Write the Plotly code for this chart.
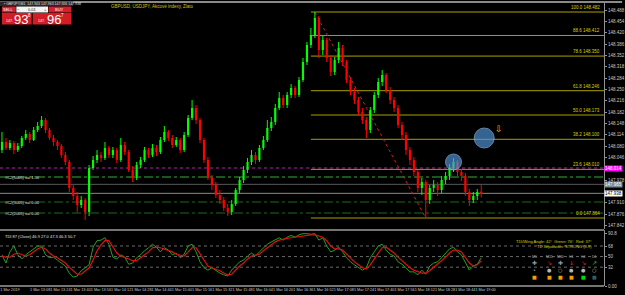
import plotly.graph_objects as go

# ---------------- data ----------------
opens = [148.068, 148.092, 148.074, 148.089, 148.068, 148.080, 148.104, 148.116, 148.098, 148.128,
         148.140, 148.158, 148.128, 148.104, 148.092, 148.080, 148.053, 148.032, 147.954, 147.930,
         147.903, 147.918, 147.882, 148.014, 148.038, 148.053, 148.044, 148.074, 148.053, 148.068,
         148.038, 148.083, 148.062, 148.008, 147.984, 148.023, 148.038, 148.068, 148.053, 148.074,
         148.062, 148.098, 148.122, 148.104, 148.083, 148.098, 148.068, 148.113, 148.164, 148.194,
         148.158, 148.098, 148.038, 147.984, 147.963, 147.933, 147.918, 147.894, 147.882, 147.906,
         147.948, 147.978, 148.008, 148.032, 148.053, 148.038, 148.074, 148.098, 148.134, 148.152,
         148.194, 148.224, 148.203, 148.233, 148.254, 148.233, 148.278, 148.332, 148.383, 148.413,
         148.464, 148.368, 148.398, 148.344, 148.302, 148.338, 148.374, 148.332, 148.278, 148.242,
         148.218, 148.182, 148.158, 148.128, 148.188, 148.233, 148.272, 148.293, 148.248, 148.218,
         148.194, 148.143, 148.113, 148.068, 148.038, 148.002, 147.954, 147.972, 147.918, 147.954,
         147.963, 147.948, 147.978, 147.990, 148.014, 148.032, 148.002, 147.990, 147.942, 147.918,
         147.930, 147.943]
highs = [148.122, 148.104, 148.098, 148.095, 148.089, 148.110, 148.128, 148.122, 148.137, 148.152,
         148.170, 148.164, 148.134, 148.113, 148.098, 148.086, 148.062, 148.038, 147.963, 147.942,
         147.930, 147.924, 148.023, 148.050, 148.068, 148.062, 148.092, 148.080, 148.077, 148.074,
         148.104, 148.092, 148.068, 148.020, 148.032, 148.047, 148.077, 148.074, 148.086, 148.083,
         148.107, 148.140, 148.128, 148.113, 148.107, 148.104, 148.122, 148.173, 148.218, 148.203,
         148.164, 148.104, 148.047, 147.993, 147.972, 147.948, 147.927, 147.906, 147.918, 147.954,
         147.987, 148.020, 148.044, 148.068, 148.062, 148.083, 148.110, 148.158, 148.167, 148.206,
         148.242, 148.233, 148.242, 148.266, 148.260, 148.287, 148.344, 148.392, 148.434, 148.482,
         148.470, 148.410, 148.404, 148.353, 148.347, 148.392, 148.383, 148.338, 148.287, 148.254,
         148.227, 148.194, 148.167, 148.197, 148.242, 148.284, 148.308, 148.299, 148.257, 148.227,
         148.203, 148.152, 148.122, 148.077, 148.047, 148.008, 147.984, 147.978, 147.963, 147.978,
         147.972, 147.990, 148.002, 148.026, 148.044, 148.038, 148.011, 147.999, 147.951, 147.942,
         147.951, 147.963]
lows = [148.059, 148.068, 148.068, 148.056, 148.062, 148.074, 148.098, 148.089, 148.095, 148.122,
        148.134, 148.119, 148.098, 148.080, 148.068, 148.044, 148.023, 147.942, 147.918, 147.882,
        147.894, 147.858, 147.870, 148.008, 148.029, 148.032, 148.038, 148.044, 148.044, 148.029,
        148.032, 148.053, 148.002, 147.972, 147.978, 148.014, 148.032, 148.044, 148.047, 148.050,
        148.056, 148.092, 148.095, 148.074, 148.077, 148.059, 148.062, 148.107, 148.158, 148.146,
        148.089, 148.029, 147.978, 147.948, 147.924, 147.906, 147.885, 147.870, 147.873, 147.900,
        147.939, 147.969, 147.999, 148.023, 148.026, 148.032, 148.068, 148.092, 148.125, 148.143,
        148.188, 148.194, 148.194, 148.224, 148.224, 148.227, 148.272, 148.323, 148.374, 148.404,
        148.344, 148.353, 148.332, 148.290, 148.293, 148.329, 148.320, 148.269, 148.233, 148.206,
        148.170, 148.146, 148.104, 148.119, 148.179, 148.224, 148.260, 148.239, 148.206, 148.182,
        148.134, 148.098, 148.053, 148.023, 147.990, 147.942, 147.933, 147.864, 147.906, 147.942,
        147.930, 147.939, 147.966, 147.978, 148.002, 147.990, 147.975, 147.930, 147.900, 147.909,
        147.918, 147.926]
closes = [148.092, 148.074, 148.089, 148.068, 148.080, 148.104, 148.116, 148.098, 148.128, 148.140,
          148.158, 148.128, 148.104, 148.092, 148.080, 148.053, 148.032, 147.954, 147.930, 147.903,
          147.918, 147.882, 148.014, 148.038, 148.053, 148.044, 148.074, 148.053, 148.068, 148.038,
          148.083, 148.062, 148.008, 147.984, 148.023, 148.038, 148.068, 148.053, 148.074, 148.062,
          148.098, 148.122, 148.104, 148.083, 148.098, 148.068, 148.113, 148.164, 148.194, 148.158,
          148.098, 148.038, 147.984, 147.963, 147.933, 147.918, 147.894, 147.882, 147.906, 147.948,
          147.978, 148.008, 148.032, 148.053, 148.038, 148.074, 148.098, 148.134, 148.152, 148.194,
          148.224, 148.203, 148.233, 148.254, 148.233, 148.278, 148.332, 148.383, 148.413, 148.464,
          148.368, 148.398, 148.344, 148.302, 148.338, 148.374, 148.332, 148.278, 148.242, 148.218,
          148.182, 148.158, 148.128, 148.188, 148.233, 148.272, 148.293, 148.248, 148.218, 148.194,
          148.143, 148.113, 148.068, 148.038, 148.002, 147.954, 147.972, 147.918, 147.954, 147.963,
          147.948, 147.978, 147.990, 148.014, 148.032, 148.002, 147.990, 147.942, 147.918, 147.930,
          147.942, 147.938]

tdi_green = [53, 39, 58, 68, 53, 46, 53, 58, 63, 68,
             68, 53, 48, 49, 44, 39, 34, 22, 15, 17,
             26, 31, 36, 66, 77, 78, 82, 71, 49, 46,
             53, 49, 37, 39, 48, 53, 60, 65, 71, 66,
             58, 65, 61, 53, 56, 48, 54, 68, 71, 58,
             41, 31, 27, 31, 26, 22, 19, 17, 27, 34,
             41, 44, 51, 56, 51, 58, 65, 71, 75, 78,
             82, 78, 83, 86, 83, 87, 89, 89, 88, 89,
             78, 82, 68, 58, 61, 66, 58, 48, 41, 36,
             31, 27, 31, 48, 58, 68, 71, 61, 54, 51,
             41, 37, 31, 24, 24, 19, 27, 20, 34, 39,
             41, 49, 56, 63, 66, 58, 53, 39, 27, 34,
             37, 48]
tdi_red = [51, 49, 49, 54, 56, 53, 51, 53, 58, 63,
           66, 63, 56, 51, 48, 44, 39, 32, 26, 20,
           20, 26, 31, 44, 60, 70, 77, 77, 66, 56,
           51, 49, 46, 43, 43, 48, 53, 58, 65, 66,
           65, 63, 61, 58, 54, 53, 51, 58, 65, 65,
           54, 43, 34, 31, 29, 26, 22, 19, 20, 27,
           34, 39, 46, 51, 53, 54, 60, 65, 70, 75,
           78, 80, 81, 82, 83, 85, 86, 87, 87, 87,
           85, 83, 77, 68, 63, 63, 61, 54, 48, 41,
           36, 31, 29, 36, 46, 56, 65, 66, 61, 56,
           49, 43, 37, 31, 27, 24, 22, 22, 26, 32,
           37, 43, 49, 56, 61, 61, 58, 49, 39, 34,
           36, 43]

time_labels = ["1 Mar 2019", "1 Mar 13:08", "1 Mar 13:24", "1 Mar 13:40", "1 Mar 13:56",
               "1 Mar 14:12", "1 Mar 14:28", "1 Mar 14:44", "1 Mar 15:00", "1 Mar 15:16",
               "1 Mar 15:32", "1 Mar 15:48", "1 Mar 16:04", "1 Mar 16:20", "1 Mar 16:36",
               "1 Mar 16:52", "1 Mar 17:08", "1 Mar 17:24", "1 Mar 17:40", "1 Mar 17:56",
               "1 Mar 18:12", "1 Mar 18:28", "1 Mar 18:44", "1 Mar 19:00"]
price_ticks = [148.488, 148.454, 148.420, 148.386, 148.352, 148.318, 148.284, 148.250, 148.216,
               148.182, 148.148, 148.114, 148.080, 148.046, 148.012, 147.978, 147.944, 147.910,
               147.876, 147.842]
fib_levels = [100.0, 88.6, 78.6, 61.8, 50.0, 38.2, 23.6, 0.0]
fib_high_bar, fib_low_bar = 79, 107
magenta_level = 148.014
ask_price = 147.965
green_levels = [147.987, 147.912, 147.879]
green_labels = ["#C2(5005) val 1.50", "#C2(3005) val 0.00", "#C2(2005) val 0.00"]
tdi_levels = [32, 50, 68]
circle_bars = [121.75, 114]
circle_prices = [148.104, 148.032]
circle_sizes = [20, 16]
arrow_bar, arrow_price = 125.5, 148.131
tf_names = ["M5", "M15", "M30", "H1", "H4", "D1"]
tf_arrows = ["✚", "↘", "✚", "↓", "↘", "↗"]
tf_arrow_colors = ["#8898a8", "#ff2020", "#8898a8", "#ff2020", "#ff2020", "#20e020"]
tf_dots = ["•", "●", "○", "●", "●", "○"]
tf_boxes_colors = ["#f0a000", "#f0a000", "#f0a000", "#f0a000", "#00e000", "#2f5f5f"]

N = len(closes)
bars = list(range(N))

# ---------------- geometry helpers (pixels -> paper) ----------------
PW, PT, PB = 610.0, 2.0, 286.0


def xp(px):
    return px / PW


def yp(py):
    return (PB - py) / (PB - PT)


FONT = "Liberation Sans"
fig = go.Figure()

hi = highs[fib_high_bar]
lo = lows[fib_low_bar]
shapes = []
annotations = []
for lv in fib_levels:
    p = lo + (hi - lo) * lv / 100.0
    shapes.append(dict(type="line", xref="x", yref="y", x0=fib_high_bar - 1, x1=152, y0=p, y1=p,
                       line=dict(color="#a8a000", width=1), layer="below"))
    annotations.append(dict(xref="paper", yref="y", x=xp(608), y=p, xanchor="right", yanchor="bottom",
                            text=f"{lv:.1f} {p:.3f}", showarrow=False,
                            font=dict(size=4.5, color="#d8d000", family=FONT)))
shapes.append(dict(type="line", xref="x", yref="y", x0=fib_high_bar, x1=fib_low_bar, y0=hi, y1=lo,
                   line=dict(color="#d02020", width=1, dash="dot"), layer="below"))

shapes.append(dict(type="line", xref="paper", yref="y", x0=0, x1=1, y0=magenta_level, y1=magenta_level,
                   line=dict(color="#b020b0", width=1, dash="dot"), layer="below"))
for i, (lvl, lab) in enumerate(zip(green_levels, green_labels)):
    col = "#30b030" if i == 0 else "#1f6a1f"
    shapes.append(dict(type="line", xref="paper", yref="y", x0=0, x1=1, y0=lvl, y1=lvl,
                       line=dict(color=col, width=1, dash="dashdot"), layer="below"))
    annotations.append(dict(xref="paper", yref="y", x=xp(3), y=lvl, xanchor="left", yanchor="middle",
                            text=lab, showarrow=False, font=dict(size=4, color="#e0e0e0", family=FONT)))
bid = closes[-1]
shapes.append(dict(type="line", xref="paper", yref="y", x0=0, x1=1, y0=ask_price, y1=ask_price,
                   line=dict(color="#5a5a5a", width=1), layer="below"))
shapes.append(dict(type="line", xref="paper", yref="y", x0=0, x1=1, y0=bid, y1=bid,
                   line=dict(color="#8a8a8a", width=1), layer="below"))

for lv in tdi_levels:
    shapes.append(dict(type="line", xref="paper", yref="y2", x0=0, x1=1, y0=lv, y1=lv,
                       line=dict(color="#6a6a6a", width=1, dash="dot"), layer="below"))

# panel borders
shapes.append(dict(type="line", xref="paper", yref="paper", x0=0, x1=1, y0=yp(230), y1=yp(230),
                   line=dict(color="#e8e8e8", width=1)))
shapes.append(dict(type="line", xref="paper", yref="paper", x0=0, x1=1, y0=0, y1=0,
                   line=dict(color="#e8e8e8", width=1)))
shapes.append(dict(type="line", xref="paper", yref="paper", x0=0, x1=1.03, y0=1.0, y1=1.0,
                   line=dict(color="#8a8a8a", width=2)))

# trade panel (top-left)
shapes += [
    dict(type="rect", xref="paper", yref="paper", x0=xp(0), x1=xp(74), y0=yp(6), y1=yp(1.5),
         fillcolor="#2a2a2a", line=dict(width=0)),
    dict(type="rect", xref="paper", yref="paper", x0=xp(2), x1=xp(16), y0=yp(12.5), y1=yp(6.5),
         fillcolor="#d8202a", line=dict(width=0)),
    dict(type="rect", xref="paper", yref="paper", x0=xp(16.5), x1=xp(48.5), y0=yp(12.5), y1=yp(6.5),
         fillcolor="#f4f4f4", line=dict(width=0)),
    dict(type="rect", xref="paper", yref="paper", x0=xp(49), x1=xp(72), y0=yp(12.5), y1=yp(6.5),
         fillcolor="#d8202a", line=dict(width=0)),
    dict(type="rect", xref="paper", yref="paper", x0=xp(2), x1=xp(32), y0=yp(24.5), y1=yp(13),
         fillcolor="#d21c26", line=dict(width=0)),
    dict(type="rect", xref="paper", yref="paper", x0=xp(33), x1=xp(72), y0=yp(24.5), y1=yp(13),
         fillcolor="#d21c26", line=dict(width=0)),
]
sell_txt = f"{closes[-1]:.3f}"
buy_txt = f"{ask_price + 0.002:.3f}"
annotations += [
    dict(xref="paper", yref="paper", x=xp(2), y=yp(3.8), xanchor="left", showarrow=False,
         text=f"▪ GBPJPY,M1  {opens[-1]:.3f} {highs[-1]:.3f} {lows[-1]:.3f} {closes[-1]:.3f}",
         font=dict(size=3.5, color="#e0e0e0", family=FONT)),
    dict(xref="paper", yref="paper", x=xp(9), y=yp(9.5), text="SELL", showarrow=False,
         font=dict(size=4, color="white", family=FONT)),
    dict(xref="paper", yref="paper", x=xp(60.5), y=yp(9.5), text="BUY", showarrow=False,
         font=dict(size=4, color="white", family=FONT)),
    dict(xref="paper", yref="paper", x=xp(19), y=yp(9.5), text="−", showarrow=False,
         font=dict(size=4, color="#202020", family=FONT)),
    dict(xref="paper", yref="paper", x=xp(33), y=yp(9.5), text="0.01", showarrow=False,
         font=dict(size=4, color="#202020", family=FONT)),
    dict(xref="paper", yref="paper", x=xp(46), y=yp(9.5), text="+", showarrow=False,
         font=dict(size=4, color="#202020", family=FONT)),
    # sell price
    dict(xref="paper", yref="paper", x=xp(4), y=yp(21.5), xanchor="left", showarrow=False,
         text=sell_txt[:4], font=dict(size=3.5, color="white", family=FONT)),
    dict(xref="paper", yref="paper", x=xp(12), y=yp(19), xanchor="left", showarrow=False,
         text=sell_txt[4:6], font=dict(size=13, color="white", family=FONT)),
    dict(xref="paper", yref="paper", x=xp(26.5), y=yp(15.5), xanchor="left", showarrow=False,
         text=sell_txt[6], font=dict(size=4.5, color="white", family=FONT)),
    # buy price
    dict(xref="paper", yref="paper", x=xp(36), y=yp(21.5), xanchor="left", showarrow=False,
         text=buy_txt[:4], font=dict(size=3.5, color="white", family=FONT)),
    dict(xref="paper", yref="paper", x=xp(45), y=yp(19), xanchor="left", showarrow=False,
         text=buy_txt[4:6], font=dict(size=13, color="white", family=FONT)),
    dict(xref="paper", yref="paper", x=xp(59.5), y=yp(15.5), xanchor="left", showarrow=False,
         text=buy_txt[6], font=dict(size=4.5, color="white", family=FONT)),
    dict(xref="paper", yref="paper", x=xp(110), y=yp(7), xanchor="left", showarrow=False,
         text="GBPUSD, USDJPY, Akcové indexy, Zlato", font=dict(size=4.5, color="#c8c800", family=FONT)),
]

# right-axis price boxes
for val, bg, fg in [(magenta_level, "#ff00ff", "white"), (ask_price, "#7a8896", "white"), (bid, "#ffffff", "black")]:
    annotations.append(dict(xref="paper", yref="y", x=1.0, y=val, xanchor="left", yanchor="middle",
                            text=f"{val:.3f}", showarrow=False, bgcolor=bg, borderpad=0,
                            font=dict(size=4.5, color=fg, family=FONT)))
box_vals = [magenta_level, ask_price, bid]
shown_ticks = [t for t in price_ticks if all(abs(t - b) > 0.012 for b in box_vals)]

# TDI texts and dashboard
annotations += [
    dict(xref="paper", yref="paper", x=xp(3), y=yp(232), xanchor="left", yanchor="top", showarrow=False,
         text="TDI 87 (Close) 46.9 27.0 47.3 46.3 50.7", font=dict(size=4, color="#e0e0e0", family=FONT)),
    dict(xref="paper", yref="paper", x=xp(600), y=yp(241), xanchor="right", showarrow=False,
         text="TDI/Wing Angle: 42°  Green: 76°  Red: 37°", font=dict(size=4, color="#d8d000", family=FONT)),
    dict(xref="paper", yref="paper", x=xp(600), y=yp(246.5), xanchor="right", showarrow=False,
         text="TD Separation: STRONG (8.9)", font=dict(size=4, color="#d8d000", family=FONT)),
]
tf_x = [540, 555, 566, 577, 589, 600]
for i, x in enumerate(tf_x):
    annotations.append(dict(xref="paper", yref="paper", x=xp(x), y=yp(256.5), showarrow=False, text=tf_names[i],
                            font=dict(size=3.5, color="#b0b0b0", family=FONT)))
    annotations.append(dict(xref="paper", yref="paper", x=xp(x), y=yp(262.5), showarrow=False, text=tf_arrows[i],
                            font=dict(size=6, color=tf_arrow_colors[i], family="DejaVu Sans")))
    annotations.append(dict(xref="paper", yref="paper", x=xp(x), y=yp(269.5), showarrow=False, text=tf_dots[i],
                            font=dict(size=5, color="#b8b8b8", family="DejaVu Sans")))
    annotations.append(dict(xref="paper", yref="paper", x=xp(x), y=yp(277), showarrow=False, text="■",
                            font=dict(size=5, color=tf_boxes_colors[i], family="DejaVu Sans")))

annotations.append(dict(xref="x", yref="y", x=arrow_bar, y=arrow_price, showarrow=False, text="⇩",
                        font=dict(size=9, color="#e8c000", family="DejaVu Sans")))

for a in annotations:
    a.setdefault("xanchor", "center")
    a.setdefault("yanchor", "middle")

# ---------------- traces: candles drawn as wicks + thin bodies ----------------
up = [c >= o for o, c in zip(opens, closes)]
for is_up, col in [(True, "#00ff00"), (False, "#ff0000")]:
    wx, wy = [], []
    for i in bars:
        if up[i] == is_up:
            wx += [i, i, None]
            wy += [lows[i], highs[i], None]
    fig.add_trace(go.Scatter(x=wx, y=wy, mode="lines", xaxis="x", yaxis="y",
                             line=dict(color=col, width=1), hoverinfo="skip"))
    idx = [i for i in bars if up[i] == is_up]
    fig.add_trace(go.Bar(x=idx, base=[min(opens[i], closes[i]) for i in idx],
                         y=[max(abs(closes[i] - opens[i]), 0.0015) for i in idx],
                         width=0.55, marker=dict(color=col, line=dict(width=0)),
                         xaxis="x", yaxis="y", hoverinfo="skip"))

fig.add_trace(go.Scatter(x=circle_bars, y=circle_prices, mode="markers", xaxis="x", yaxis="y",
                         marker=dict(size=circle_sizes, color="rgba(80,150,220,0.95)",
                                     line=dict(color="#8dbdf0", width=1)), hoverinfo="skip"))
fig.add_trace(go.Scatter(x=bars, y=tdi_green, mode="lines", xaxis="x2", yaxis="y2",
                         line=dict(color="#22a022", width=1), hoverinfo="skip"))
fig.add_trace(go.Scatter(x=bars, y=tdi_red, mode="lines", xaxis="x2", yaxis="y2",
                         line=dict(color="#e01010", width=1.2), hoverinfo="skip"))

tick_pos = [(10 - 2) / 4.0] + [((32 + 20.45 * k + 8.5) - 2) / 4.0 for k in range(len(time_labels) - 1)]

axis_font = dict(size=4.5, color="#c8c8c8", family=FONT)
fig.update_layout(
    width=625, height=295, margin=dict(l=0, r=15, t=2, b=9),
    paper_bgcolor="black", plot_bgcolor="black", showlegend=False, barmode="overlay",
    xaxis=dict(domain=[0, 1], range=[-0.5, 152], anchor="y", showticklabels=False, showgrid=False,
               zeroline=False, fixedrange=True),
    yaxis=dict(domain=[yp(229), 1], range=[147.831, 148.512], side="right", anchor="x",
               tickvals=shown_ticks, ticktext=[f"{v:.3f}" for v in shown_ticks], tickfont=axis_font,
               ticks="outside", ticklen=2, tickcolor="#909090", showgrid=False, zeroline=False,
               showline=True, linecolor="#909090", linewidth=1),
    xaxis2=dict(domain=[0, 1], range=[-0.5, 152], anchor="y2", matches="x", tickvals=tick_pos,
                ticktext=time_labels, tickfont=dict(size=3.8, color="#c8c8c8", family=FONT),
                tickangle=0, ticks="", showgrid=False, zeroline=False),
    yaxis2=dict(domain=[0, yp(230)], range=[0, 95.2], side="right", anchor="x2",
                tickvals=[0, 32, 50, 68, 90.1], ticktext=["0.00", "32", "50", "68", "90.8"],
                tickfont=axis_font, ticks="outside", ticklen=2, tickcolor="#909090", showgrid=False,
                zeroline=False, showline=True, linecolor="#909090", linewidth=1),
    shapes=shapes, annotations=annotations,
)

fig.write_html("out.html")
